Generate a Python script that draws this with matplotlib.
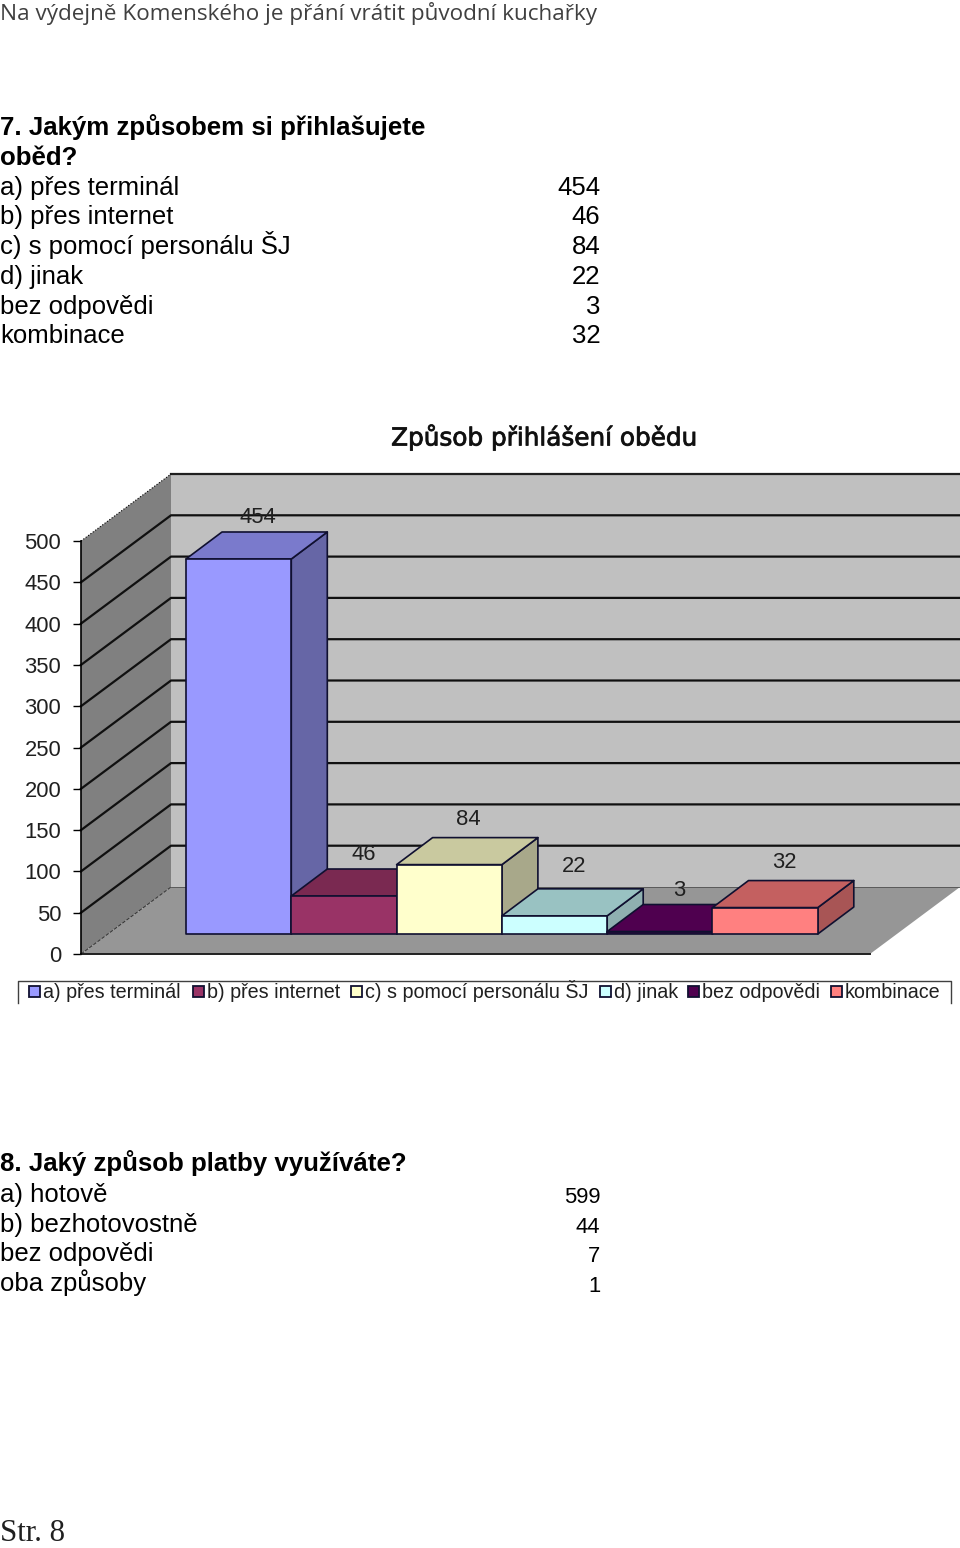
import matplotlib
matplotlib.use("Agg")
import matplotlib.pyplot as plt
import matplotlib.patheffects as pe
from matplotlib.patches import Polygon, Rectangle
from matplotlib.lines import Line2D

# Question 7 chart data
categories = ["a) přes terminál", "b) přes internet", "c) s pomocí personálu ŠJ", "d) jinak", "bez odpovědi", "kombinace"]
answers = [454, 46, 84, 22, 3, 32]
y_ticks = [0, 50, 100, 150, 200, 250, 300, 350, 400, 450, 500]

# Question 8 table
q8_labels = ["a) hotově", "b) bezhotovostně", "bez odpovědi", "oba způsoby"]
q8_values = [599, 44, 7, 1]

front_cols = ["#9999ff", "#993366", "#ffffcc", "#ccffff", "#4f004f", "#ff8080"]
top_cols = ["#7a7acc", "#7a2951", "#c9c99f", "#99c2c2", "#4f004f", "#c46060"]
side_cols = ["#6666a6", "#66223f", "#a8a88a", "#8fb0b0", "#3a003a", "#a85555"]
label_nudge = [2, 2, -2, -6, 2, -2]
legend_box_x = [29, 193, 351, 600, 688, 831]

W, H = 960, 1548
SANS = "Liberation Sans"

fig = plt.figure(figsize=(W / 100, H / 100), dpi=100, facecolor="white")


def px_text(x, y, s, size, ha="left", **kw):
	fig.text(x / W, 1 - y / H, s, fontsize=size * 0.72, ha=ha, va="baseline", **kw)


# Text above and below the chart ==============================================
px_text(0, 20, "Na výdejně Komenského je přání vrátit původní kuchařky", 22.5, family="Open Sans", color="#404040")
px_text(0, 135, "7. Jakým způsobem si přihlašujete", 25.85, family=SANS, weight="bold")
px_text(0, 165, "oběd?", 25.85, family=SANS, weight="bold")

line_y = [195, 224, 254, 284, 314, 343]
for name, val, y in zip(categories, answers, line_y):
	px_text(0, y, name, 25.7, family=SANS)
	px_text(600.5, y, str(val), 25.7, ha="right", family=SANS)

px_text(0, 1171, "8. Jaký způsob platby využíváte?", 25.85, family=SANS, weight="bold")
line_y = [1202, 1232, 1261, 1291]
for name, val, y in zip(q8_labels, q8_values, line_y):
	px_text(0, y, name, 25.7, family=SANS)
	px_text(600.5, y + 1, str(val), 22, ha="right", family=SANS)

px_text(0, 1541, "Str. 8", 31, family="Liberation Serif", color="#202020")

# Chart =======================================================================
PX_PER_CAT = 105.3
BAR_X0 = 186
ax = fig.add_axes([81 / W, 1 - 954 / H, (W - 81) / W, (954 - 541) / H])
x_min = (81 - BAR_X0) / PX_PER_CAT
x_max = (W - BAR_X0) / PX_PER_CAT
ax.set_xlim(x_min, x_max)
ax.set_ylim(0, 500)
ax.patch.set_visible(False)
for side in ["top", "right", "bottom"]:
	ax.spines[side].set_visible(False)
ax.spines["left"].set_linewidth(1.2)
ax.set_xticks([])
ax.set_yticks(y_ticks)
ax.tick_params(axis="y", length=5.8, width=1, pad=8.5, labelsize=15.8)
for lab in ax.get_yticklabels():
	lab.set_family(SANS)
	lab.set_color("#202020")

px_y = 413 / 500
wall_dx, wall_dy = 90 / PX_PER_CAT, 67 / px_y
bar_dx, bar_dy = 36 / PX_PER_CAT, 27 / px_y
bar_base = 20 / px_y


def poly(pts, col, z, edge="none", lw=0):
	ax.add_patch(Polygon(pts, closed=True, facecolor=col, edgecolor=edge, linewidth=lw, zorder=z, clip_on=False, joinstyle="round"))


def line(xs, ys, lw=1.6, col="black", ls="-", z=2):
	ax.add_line(Line2D(xs, ys, color=col, linewidth=lw, linestyle=ls, zorder=z, clip_on=False))


back_x = x_min + wall_dx
poly([(back_x, wall_dy), (x_max, wall_dy), (x_max, 500 + wall_dy), (back_x, 500 + wall_dy)], "#c0c0c0", 1)
poly([(x_min, 0), (back_x, wall_dy), (back_x, 500 + wall_dy), (x_min, 500)], "#808080", 1)
poly([(x_min, 0), (x_max - wall_dx, 0), (x_max, wall_dy), (back_x, wall_dy)], "#969696", 1)

for t in y_ticks[1:-1]:
	line([x_min, back_x, x_max], [t, t + wall_dy, t + wall_dy], col="#101010")
line([back_x, x_max], [500 + wall_dy, 500 + wall_dy], col="#202020")
line([x_min, back_x], [500, 500 + wall_dy], lw=0.8, ls=":")
line([x_min, back_x], [0, wall_dy], lw=0.7, ls="--", col="#303030")
line([back_x, x_max], [wall_dy, wall_dy], lw=0.6, col="#505050")
line([x_min, x_max - wall_dx], [0, 0], lw=1.4, col="#202020")

for i, val in enumerate(answers):
	l, r = i, i + 1
	b, t = bar_base, bar_base + val
	z = 3 + i
	poly([(r, b), (r + bar_dx, b + bar_dy), (r + bar_dx, t + bar_dy), (r, t)], side_cols[i], z, "#101030", 1.2)
	poly([(l, t), (r, t), (r + bar_dx, t + bar_dy), (l + bar_dx, t + bar_dy)], top_cols[i], z, "#101030", 1.2)
	poly([(l, b), (r, b), (r, t), (l, t)], front_cols[i], z, "#101030", 1.2)
	ax.text(i + 0.5 + 19.5 / PX_PER_CAT, t + (43.5 + label_nudge[i] * -1) / px_y, str(val), fontsize=15.8, family=SANS,
	        ha="center", va="center", color="#202020", zorder=20)

fig.text(545 / W, 1 - 437 / H, "Způsob přihlášení obědu", fontsize=17.8, family="DejaVu Sans", ha="center", va="center", color="#101010",
         path_effects=[pe.withStroke(linewidth=0.6, foreground="#202020")])

# Legend, cut off at the bottom as in the source
fig.add_artist(Line2D([18 / W, 18 / W, 951 / W, 951 / W], [1 - 1003 / H, 1 - 981 / H, 1 - 981 / H, 1 - 1003 / H], color="#404040", linewidth=1))
for name, col, x in zip(categories, front_cols, legend_box_x):
	fig.add_artist(Rectangle((x / W, 1 - 997 / H), 11 / W, 11 / H, facecolor=col, edgecolor="#101030", linewidth=1.3, transform=fig.transFigure))
	px_text(x + 14, 998, name, 19.8, family=SANS, color="#202020")

fig.savefig("out.png", dpi=100)
